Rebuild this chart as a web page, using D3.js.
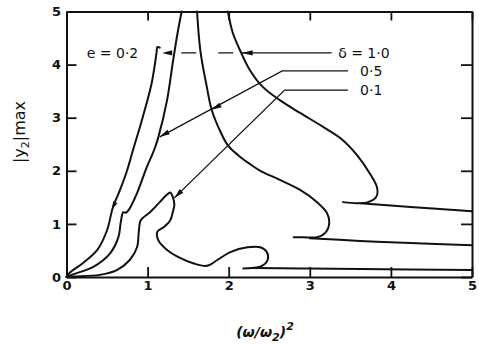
<!DOCTYPE html>
<html><head><meta charset="utf-8">
<script src="https://cdn.jsdelivr.net/npm/d3@7"></script>
<style>body{margin:0;background:#fff}svg{display:block}</style>
</head><body>
<svg id="chart" width="479" height="344"></svg>
<script>
// Axis ticks
const xTickValues = [0, 1, 2, 3, 4, 5];
const yTickValues = [0, 1, 2, 3, 4, 5];

// delta = 1.0 : rising branch (ends in a jump), falling branch with its fold, lower tail
const delta10Rise = [[0,0],[0.04,0.08],[0.20,0.26],[0.38,0.51],[0.50,0.88],[0.57,1.30],[0.66,1.64],[0.75,2.02],[0.82,2.39],[0.94,3.01],[1.05,3.65],[1.11,4.22],[1.12,4.33],[1.15,4.32]];
const delta10Fall = [[1.99,5.0],[2.05,4.60],[2.14,4.27],[2.26,3.90],[2.42,3.58],[2.63,3.33],[2.88,3.09],[3.15,2.84],[3.39,2.60],[3.58,2.30],[3.74,1.95],[3.83,1.68],[3.82,1.51],[3.72,1.41],[3.58,1.39],[3.41,1.41]];
const delta10Tail = [[3.62,1.39],[4.24,1.32],[5.0,1.24]];

// delta = 0.5
const delta05Rise = [[0,0],[0.08,0.05],[0.33,0.19],[0.54,0.45],[0.64,0.75],[0.67,1.04],[0.70,1.22],[0.73,1.21],[0.77,1.27],[0.87,1.58],[0.99,2.07],[1.08,2.39],[1.13,2.62],[1.24,3.33],[1.31,4.03],[1.37,4.60],[1.42,5.0]];
const delta05Fall = [[1.61,5.0],[1.65,4.27],[1.73,3.58],[1.79,3.15],[1.90,2.73],[1.99,2.48],[2.12,2.29],[2.26,2.13],[2.39,2.00],[2.63,1.83],[2.88,1.64],[3.09,1.41],[3.21,1.21],[3.24,1.02],[3.19,0.83],[3.09,0.75],[2.92,0.75],[2.80,0.75]];
const delta05Tail = [[3.0,0.73],[3.62,0.68],[4.24,0.64],[5.0,0.60]];

// delta = 0.1
const delta01Curve = [[0,0],[0.08,0.01],[0.41,0.04],[0.62,0.13],[0.78,0.32],[0.87,0.56],[0.89,0.83],[0.91,1.05],[0.94,1.11],[1.03,1.22],[1.15,1.41],[1.23,1.54],[1.28,1.59],[1.31,1.51],[1.33,1.36],[1.31,1.22],[1.28,1.07],[1.20,0.94],[1.12,0.85],[1.13,0.70],[1.24,0.51],[1.40,0.36],[1.56,0.26],[1.73,0.21],[1.86,0.32],[2.02,0.47],[2.23,0.56],[2.39,0.56],[2.47,0.47],[2.48,0.32],[2.41,0.21],[2.29,0.17],[2.18,0.16]];
const delta01Tail = [[2.29,0.17],[2.88,0.16],[3.62,0.15],[5.0,0.13]];

// Annotation labels
const labelTexts = ["e = 0·2", "δ = 1·0", "0·5", "0·1"];

const svg = d3.select("#chart");
const x = d3.scaleLinear().domain([0, 5]).range([66.5, 472]);
const y = d3.scaleLinear().domain([0, 5]).range([277, 11.5]);

const ink = "#111";

// Frame axes with inward ticks
function styleAxis(g) {
  g.select(".domain").attr("stroke", ink).attr("stroke-width", 2);
  g.selectAll(".tick line").attr("stroke", ink).attr("stroke-width", 1.8);
  g.selectAll(".tick text").attr("fill", ink)
    .style("font-family", "'DejaVu Sans', sans-serif").style("font-weight", "bold").style("font-size", "13px");
}
svg.append("g").attr("transform", `translate(0,${y(0)})`)
  .call(d3.axisBottom(x).tickValues(xTickValues).tickSize(-10).tickSizeOuter(0).tickPadding(4).tickFormat(d3.format("d")))
  .call(styleAxis);
svg.append("g").attr("transform", `translate(0,${y(5)})`)
  .call(d3.axisTop(x).tickValues(xTickValues).tickSize(-9).tickSizeOuter(0).tickFormat(""))
  .call(styleAxis);
const gl = svg.append("g").attr("transform", `translate(${x(0)},0)`)
  .call(d3.axisLeft(y).tickValues(yTickValues).tickSize(-10).tickSizeOuter(0).tickFormat(d3.format("d")))
  .call(styleAxis);
gl.selectAll(".tick text").attr("text-anchor", "middle").attr("x", -10);
svg.append("g").attr("transform", `translate(${x(5)},0)`)
  .call(d3.axisRight(y).tickValues(yTickValues).tickSize(-11).tickSizeOuter(0).tickFormat(""))
  .call(styleAxis);

// Response curves
const line = d3.line().x(d => x(d[0])).y(d => y(d[1])).curve(d3.curveCatmullRom.alpha(0.5));
[delta10Rise, delta10Fall, delta10Tail, delta05Rise, delta05Fall, delta05Tail, delta01Curve, delta01Tail]
  .forEach(pts => svg.append("path").attr("d", line(pts))
    .attr("fill", "none").attr("stroke", ink).attr("stroke-width", 2).attr("stroke-linejoin", "round").attr("stroke-linecap", "round"));

// Leader lines and arrowheads
const straight = d3.line().x(d => x(d[0])).y(d => y(d[1]));
function leader(pts, dash) {
  svg.append("path").attr("d", straight(pts)).attr("fill", "none")
    .attr("stroke", ink).attr("stroke-width", 1.3).attr("stroke-dasharray", dash || null);
}
function arrowhead(tip, from, len, half) {
  const tx = x(tip[0]), ty = y(tip[1]);
  const fx = x(from[0]), fy = y(from[1]);
  const dx = fx - tx, dy = fy - ty, L = Math.hypot(dx, dy);
  const ux = dx / L, uy = dy / L;
  const bx = tx + ux * len, by = ty + uy * len;
  svg.append("path")
    .attr("d", `M${tx},${ty}L${bx - uy * half},${by + ux * half}L${bx + uy * half},${by - ux * half}Z`)
    .attr("fill", ink);
}

// delta = 1.0 leader: dashed to the rising branch, solid to the falling branch
leader([[1.28, 4.22], [2.14, 4.22]], "0,11,15,11");
arrowhead([1.18, 4.22], [2.0, 4.22], 10, 2.6);
leader([[2.16, 4.22], [3.27, 4.22]]);
arrowhead([2.16, 4.22], [3.0, 4.22], 11, 2.6);

// delta = 0.5 leader
leader([[3.47, 3.88], [2.66, 3.88], [1.15, 2.64]]);
arrowhead([1.15, 2.64], [2.66, 3.88], 10, 2.6);
arrowhead([1.79, 3.15], [2.66, 3.88], 10, 2.6);

// delta = 0.1 leader
leader([[3.47, 3.52], [2.69, 3.52], [1.33, 1.49]]);
arrowhead([1.33, 1.49], [2.69, 3.52], 10, 2.6);

// small direction mark on the rising branch
arrowhead([0.56, 1.27], [0.60, 1.40], 8, 2.4);

// Annotation text
const annFont = "'DejaVu Sans', sans-serif";
const ann = [[0.25, 4.22], [3.35, 4.22], [3.62, 3.88], [3.62, 3.52]];
ann.forEach((p, i) => svg.append("text").attr("x", x(p[0])).attr("y", y(p[1])).attr("dy", "0.35em")
  .attr("fill", ink).style("font-family", annFont).style("font-size", "14px").text(labelTexts[i]));

// Axis titles
const yt = svg.append("text").attr("transform", `translate(25,132) rotate(-90)`)
  .attr("text-anchor", "middle").attr("fill", ink)
  .style("font-family", annFont).style("font-size", "16px");
yt.append("tspan").text("|y");
yt.append("tspan").attr("dy", 4).style("font-size", "11px").text("2");
yt.append("tspan").attr("dy", -4).text("|max");

const xt = svg.append("text").attr("x", 265).attr("y", 337).attr("text-anchor", "middle").attr("fill", ink)
  .style("font-family", annFont).style("font-size", "14px").style("font-style", "italic").style("font-weight", "bold");
xt.append("tspan").text("(ω/ω");
xt.append("tspan").attr("dy", 4).style("font-size", "11px").text("2");
xt.append("tspan").attr("dy", -4).text(")");
xt.append("tspan").attr("dy", -7).style("font-size", "11px").text("2");
</script>
</body></html>
